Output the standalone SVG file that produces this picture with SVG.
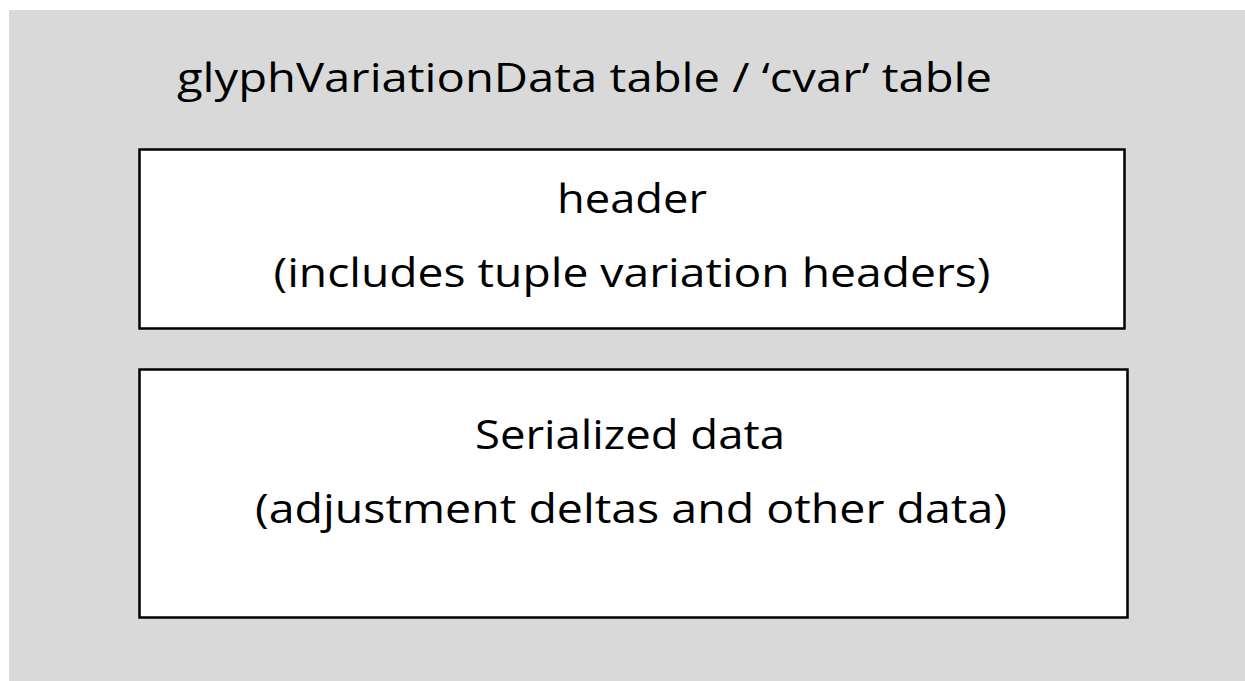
<svg xmlns="http://www.w3.org/2000/svg" width="1245" height="681" viewBox="0 0 1245 681">
<style>
.bg{fill:#d9d9d9}
.box{fill:#ffffff;stroke:#000000;stroke-width:2.5}
.t{font-family:"Open Sans","Noto Sans","Liberation Sans",sans-serif;font-size:40px;fill:#000000}
.c{text-anchor:middle}
</style>
<rect class="bg" x="9" y="10" width="1236" height="671"/>
<g id="title">
<text class="t" x="177" y="92" textLength="815" lengthAdjust="spacingAndGlyphs">glyphVariationData table / ‘cvar’ table</text>
</g>
<g id="header">
<rect class="box" x="139.5" y="149.5" width="985" height="179"/>
<text class="t c" x="632" y="213" textLength="150" lengthAdjust="spacingAndGlyphs">header</text>
<text class="t c" x="632" y="287" textLength="717" lengthAdjust="spacingAndGlyphs">(includes tuple variation headers)</text>
</g>
<g id="serialized">
<rect class="box" x="139.5" y="369.5" width="988" height="248"/>
<text class="t c" x="630" y="449" textLength="310" lengthAdjust="spacingAndGlyphs">Serialized data</text>
<text class="t c" x="631" y="523" textLength="752" lengthAdjust="spacingAndGlyphs">(adjustment deltas and other data)</text>
</g>
<g id="connectors"/>
</svg>
